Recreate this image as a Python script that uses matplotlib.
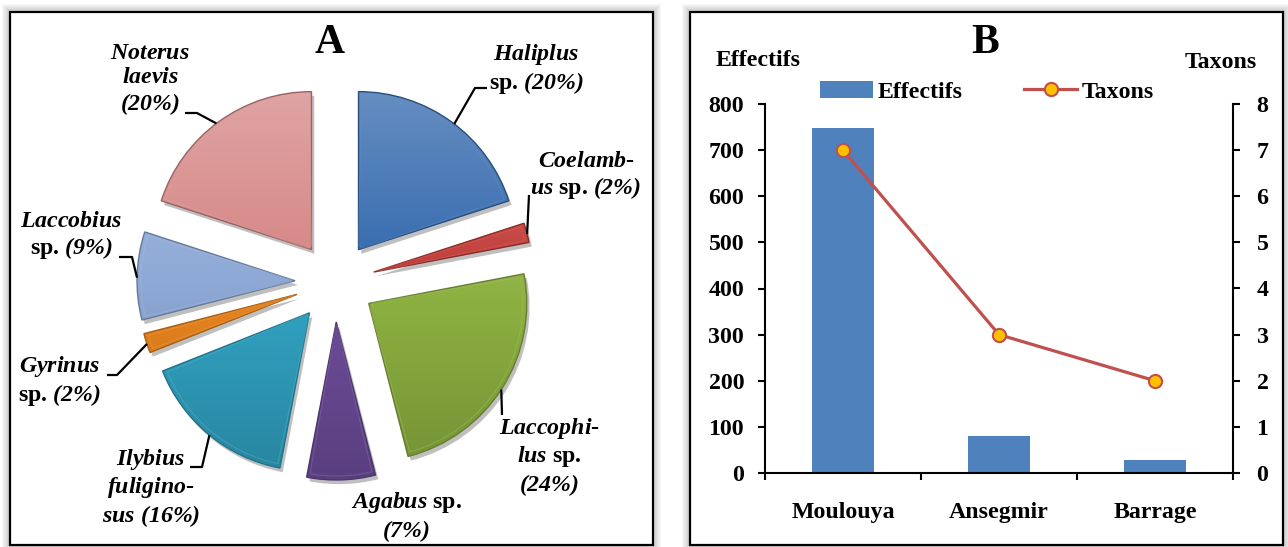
import numpy as np
import matplotlib
matplotlib.use("Agg")
import matplotlib.pyplot as plt
import matplotlib.patheffects as pe
from matplotlib.patches import Rectangle, Wedge
from matplotlib.colors import LinearSegmentedColormap, to_rgb

plt.rcParams['font.family'] = ['Liberation Serif', 'DejaVu Serif']
plt.rcParams['font.weight'] = 'bold'
plt.rcParams['mathtext.fontset'] = 'custom'
plt.rcParams['mathtext.rm'] = 'Liberation Serif:italic:bold'
plt.rcParams['mathtext.it'] = 'Liberation Serif:italic:bold'
plt.rcParams['mathtext.bf'] = 'Liberation Serif:italic:bold'

FS = 17.2

# ---- data, panel A (share of taxa, %) ----
taxa = ["Haliplus sp.", "Coelambus sp.", "Laccophilus sp.", "Agabus sp.",
        "Ilybius fuliginosus", "Gyrinus sp.", "Laccobius sp.", "Noterus laevis"]
pct = [20, 2, 24, 7, 16, 2, 9, 20]
pie_labels = [
    r"$Haliplus$" "\n" r"sp. $(20\%)$",
    r"$Coelamb$-" "\n" r"$us$ sp. $(2\%)$",
    r"$Laccophi$-" "\n" r"$lus$ sp." "\n" r"$(24\%)$",
    r"$Agabus$ sp." "\n" r"$(7\%)$",
    r"$Ilybius$" "\n" r"$fuligino$-" "\n" r"$sus\ (16\%)$",
    r"$Gyrinus$" "\n" r"sp. $(2\%)$",
    r"$Laccobius$" "\n" r"sp. $(9\%)$",
    r"$Noterus$" "\n" r"$laevis$" "\n" r"$(20\%)$",
]
pie_colors = ['#3a6eb0', '#c23e3a', '#8cb040', '#6b4b97',
              '#30a0bf', '#e8841e', '#8ea9d6', '#d68a89']

# ---- data, panel B ----
sites = ["Moulouya", "Ansegmir", "Barrage"]
effectifs = [748, 81, 29]
taxons = [7, 3, 2]

W, H = 1288, 547
fig = plt.figure(figsize=(W / 100, H / 100), dpi=100)
fig.patch.set_facecolor('white')


def fx(x):
    return x / W


def fy(y):
    return 1 - y / H


def panel_frame(x0, y0, x1, y1):
    for k in range(8, 0, -1):
        fig.add_artist(Rectangle((fx(x0 - k), fy(y1 + k)), (x1 - x0 + 2 * k) / W,
                                 (y1 - y0 + 2 * k) / H, transform=fig.transFigure,
                                 facecolor='0.45', edgecolor='none', alpha=0.05, zorder=-5))
    fig.add_artist(Rectangle((fx(x0), fy(y1)), (x1 - x0) / W, (y1 - y0) / H,
                             transform=fig.transFigure, facecolor='white',
                             edgecolor='none', zorder=-4))
    fig.add_artist(Rectangle((fx(x0), fy(y1)), (x1 - x0) / W, (y1 - y0) / H,
                             transform=fig.transFigure, fill=False,
                             edgecolor='black', lw=1.6, zorder=10))


panel_frame(10, 12, 653, 545)
panel_frame(690, 12, 1283, 545)

# ================= panel A: exploded pie =================
PIE_CX, PIE_CY, PIE_R = 335, 282, 158
axA = fig.add_axes([fx(10), fy(545), 643 / W, 533 / H])
axA.patch.set_visible(False)


def px(x, y):
    return (x - PIE_CX) / PIE_R, (PIE_CY - y) / PIE_R


wedges, _ = axA.pie(pct, colors=pie_colors, startangle=90, counterclock=False,
                    explode=[40 / PIE_R] * len(pct), radius=1,
                    wedgeprops=dict(linewidth=0))

for w, c in zip(wedges, pie_colors):
    w.set_path_effects([pe.SimplePatchShadow(offset=(2, -3), shadow_rgbFace='k', alpha=0.25),
                        pe.Normal()])
    rgb = np.array(to_rgb(c))
    light = rgb + (1 - rgb) * 0.22
    dark = rgb * 0.84
    cmap = LinearSegmentedColormap.from_list('g', [dark, rgb, light])
    cx, cy = w.center
    grad = np.linspace(0, 1, 256).reshape(-1, 1)
    im = axA.imshow(grad, extent=[cx - w.r, cx + w.r, cy - w.r, cy + w.r], origin='lower',
                    cmap=cmap, aspect='auto', zorder=2, interpolation='bicubic')
    im.set_clip_path(w)
    axA.add_patch(Wedge(w.center, w.r, w.theta1, w.theta2, fill=False,
                        edgecolor=tuple(rgb * 0.72), lw=1.0, zorder=3))
    axA.add_patch(Wedge(w.center, w.r * 0.975, w.theta1 + 1.0, w.theta2 - 1.0, width=w.r * 0.95,
                        fill=False, edgecolor=tuple(light), lw=0.8, alpha=0.4, zorder=3))

# label layout: text centre (px), leader elbow points (px), attach angle on wedge (deg)
label_pos = [(536, 69), (586, 176), (549, 457), (406, 517),
             (151, 488), (59, 381), (71, 236), (150, 80)]
leaders = [
    ([(487, 88), (475, 88)], 52.7),
    ([(529, 195)], 13.9),
    ([(502, 415)], -33.0),
    (None, None),
    ([(190, 467), (202, 467)], -129.3),
    ([(107, 375), (117, 375)], -161.7),
    ([(119, 257), (132, 257)], 178.9),
    ([(185, 113), (197, 113)], 127.0),
]

for w, lab, pos, (elbows, ang) in zip(wedges, pie_labels, label_pos, leaders):
    axA.text(*px(*pos), lab, ha='center', va='center', fontsize=FS,
             linespacing=1.15, zorder=6)
    if elbows is None:
        continue
    pts = [px(*p) for p in elbows]
    cx, cy = w.center
    pts.append((cx + w.r * np.cos(np.radians(ang)), cy + w.r * np.sin(np.radians(ang))))
    xs, ys = zip(*pts)
    axA.plot(xs, ys, color='black', lw=1.6, zorder=5, solid_capstyle='butt')

axA.set_xlim((10 - PIE_CX) / PIE_R, (653 - PIE_CX) / PIE_R)
axA.set_ylim((PIE_CY - 545) / PIE_R, (PIE_CY - 12) / PIE_R)
axA.set_aspect('auto')
axA.axis('off')
fig.text(fx(330), fy(43), "A", ha='center', va='center', fontsize=30)

# ================= panel B: bars + line =================
axB = fig.add_axes([fx(765), fy(473), 468 / W, 369 / H])
axB.patch.set_visible(False)
x = np.arange(len(sites))
bars = axB.bar(x, effectifs, width=0.395, color='#4f81bd', edgecolor='none', zorder=2,
               label='Effectifs')
axB.set_xlim(-0.5, len(sites) - 0.5)
axB.set_ylim(0, 800)
axB.set_yticks(np.arange(0, 801, 100))
axB.set_xticks(np.arange(-0.5, len(sites), 1.0))
axB.set_xticklabels([])
axB.set_xticks(x, minor=True)
axB.set_xticklabels(sites, minor=True, fontsize=FS)
axB.tick_params(axis='x', which='major', direction='out', length=5, width=1.5)
axB.tick_params(axis='x', which='minor', length=0, pad=21)
axB.tick_params(axis='y', direction='out', length=5, width=1.5, pad=10, labelsize=FS)
for s in ['top', 'right']:
    axB.spines[s].set_visible(False)
for s in ['left', 'bottom']:
    axB.spines[s].set_linewidth(1.5)

axT = axB.twinx()
line, = axT.plot(x, taxons, color='#c0504d', lw=2.3, marker='o', ms=9.5,
                 mfc='#ffc000', mec='#c0504d', mew=1.5, zorder=3, label='Taxons')
axT.set_ylim(0, 8)
axT.set_yticks(np.arange(0, 9, 1))
axT.tick_params(axis='y', direction='out', length=5, width=1.5, pad=12, labelsize=FS)
for s in ['top', 'left', 'bottom']:
    axT.spines[s].set_visible(False)
axT.spines['right'].set_linewidth(1.5)

fig.legend([bars, line], ['Effectifs', 'Taxons'], loc='center',
           bbox_to_anchor=(fx(987), fy(92)), ncol=2, frameon=False, fontsize=FS,
           handlelength=2.2, handletextpad=0.2, columnspacing=2.6, borderpad=0,
           numpoints=1)

fig.text(fx(758), fy(60), "Effectifs", ha='center', va='center', fontsize=FS)
fig.text(fx(1221), fy(63), "Taxons", ha='center', va='center', fontsize=FS)
fig.text(fx(985), fy(43), "B", ha='center', va='center', fontsize=30)

fig.savefig("out.png", dpi=100, facecolor='white')
